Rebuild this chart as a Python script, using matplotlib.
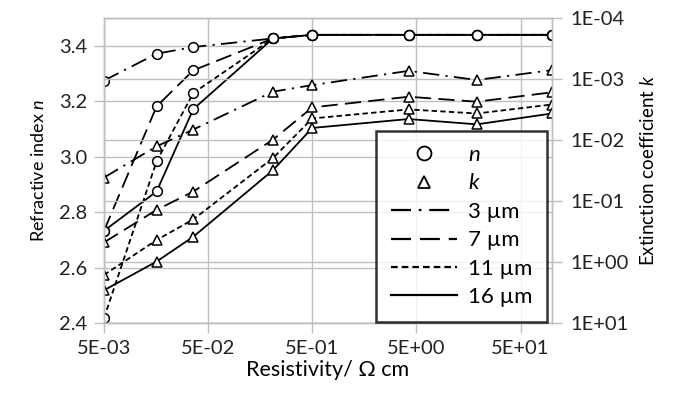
import numpy as np
import matplotlib
matplotlib.use('Agg')
import matplotlib.pyplot as plt
from matplotlib.lines import Line2D
from matplotlib.ticker import FixedLocator, FuncFormatter, NullLocator

plt.rcParams['font.family'] = ['Lato', 'DejaVu Sans']
plt.rcParams['mathtext.fontset'] = 'custom'
plt.rcParams['mathtext.it'] = 'Lato:italic'
plt.rcParams['mathtext.rm'] = 'Lato'

# resistivity (Ohm cm)
rho = [0.005, 0.016, 0.036, 0.21, 0.5, 4.2, 19, 100]
labels = ['3 µm', '7 µm', '11 µm', '16 µm']

# refractive index n for each thickness
n_3 = [3.275, 3.372, 3.396, 3.427, 3.44, 3.44, 3.44, 3.44]
n_7 = [2.733, 3.182, 3.312, 3.427, 3.44, 3.44, 3.44, 3.44]
n_11 = [2.418, 2.984, 3.230, 3.427, 3.44, 3.44, 3.44, 3.44]
n_16 = [2.733, 2.875, 3.172, 3.427, 3.44, 3.44, 3.44, 3.44]

# extinction coefficient k for each thickness
k_3 = [0.041, 0.0126, 0.0067, 0.0016, 0.00125, 0.00073, 0.00103, 0.00071]
k_7 = [0.475, 0.139, 0.0695, 0.0098, 0.0029, 0.00194, 0.00234, 0.00164]
k_11 = [1.62, 0.434, 0.199, 0.0196, 0.0044, 0.00313, 0.00365, 0.0026]
k_16 = [2.89, 0.977, 0.383, 0.031, 0.0063, 0.0045, 0.0055, 0.00365]

styles = [(0, (9, 3.5, 1.2, 3.5)), (0, (9, 4)), (0, (3, 1.8)), '-']
n_all = [n_3, n_7, n_11, n_16]
k_all = [k_3, k_7, k_11, k_16]

grey = '#bfbfbf'

fig = plt.figure(figsize=(6.78, 3.96), dpi=100)
ax = fig.add_axes([0.1534, 0.184, 0.6606, 0.77])
ax2 = ax.twinx()

for n, ls in zip(n_all, styles):
    ax.plot(rho, n, color='black', lw=1.3, ls=ls, marker='o', ms=7,
            mfc='white', mec='black', mew=1.1)
for k, ls in zip(k_all, styles):
    ax2.plot(rho, k, color='black', lw=1.3, ls=ls, marker='^', ms=7,
             mfc='white', mec='black', mew=1.1)

ax.set_xscale('log')
ax.set_xlim(0.005, 100)
ax.set_ylim(2.4, 3.5)
ax.xaxis.set_major_locator(FixedLocator([0.005, 0.05, 0.5, 5, 50]))
ax.xaxis.set_minor_locator(NullLocator())
ax.xaxis.set_major_formatter(FuncFormatter(lambda v, p: '{:.0E}'.format(v)))
ax.set_yticks([2.4, 2.6, 2.8, 3.0, 3.2, 3.4])
ax.yaxis.set_major_formatter(FuncFormatter(lambda v, p: '{:.1f}'.format(v)))

ax2.set_yscale('log')
ax2.set_ylim(10, 1e-4)
ax2.yaxis.set_major_locator(FixedLocator([1e-4, 1e-3, 1e-2, 1e-1, 1, 10]))
ax2.yaxis.set_minor_locator(NullLocator())
ax2.yaxis.set_major_formatter(FuncFormatter(lambda v, p: '{:.0E}'.format(v)))

ax.grid(True, color=grey, lw=1)
ax2.grid(True, axis='y', color=grey, lw=1)
ax.set_axisbelow(True)
ax2.set_axisbelow(True)

for a in (ax, ax2):
    for s in a.spines.values():
        s.set_color(grey)
        s.set_linewidth(1)
    a.tick_params(direction='out', length=7, width=1, color=grey,
                  labelsize=14.5, labelcolor='#222222')
ax.tick_params(axis='y', pad=5)
ax2.tick_params(axis='y', pad=6)
ax.tick_params(axis='x', pad=5)

ax.set_xlabel('Resistivity/ Ω cm', fontsize=15.5, labelpad=2)
ax.set_ylabel('Refractive index $n$', fontsize=13, labelpad=9)
ax2.set_ylabel('Extinction coefficient $k$', fontsize=13.5, labelpad=8)

handles = [Line2D([], [], ls='none', marker='o', ms=10, mfc='white', mec='black', mew=1.3),
           Line2D([], [], ls='none', marker='^', ms=9, mfc='white', mec='black', mew=1.3)]
for ls in styles:
    handles.append(Line2D([], [], color='black', lw=1.6, ls=ls))
leg = ax2.legend(handles, ['$n$', '$k$'] + labels, loc='lower right',
                 bbox_to_anchor=(0.99, 0.005), fontsize=16, frameon=True,
                 fancybox=False, handlelength=3.0, borderpad=0.65,
                 labelspacing=0.38, handletextpad=0.5, borderaxespad=0)
leg.get_frame().set_edgecolor('black')
leg.get_frame().set_linewidth(1.8)

fig.savefig('out.png', dpi=100)
